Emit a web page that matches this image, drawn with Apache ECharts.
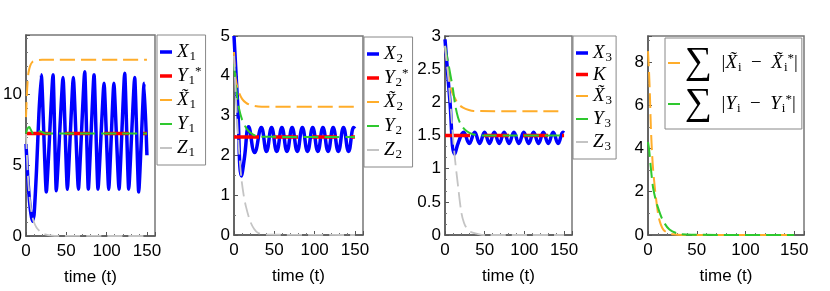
<!DOCTYPE html>
<html><head><meta charset="utf-8">
<script src="https://cdn.jsdelivr.net/npm/echarts@6/dist/echarts.min.js"></script>
<style>html,body{margin:0;padding:0;background:#fff}#c{width:830px;height:291px}</style>
</head><body><div id="c"></div>
<script>
// ---------- data: [time, value] ----------
const X_TICK_INTERVAL = 50;
// Panel 1
const X1 = [[0,6.5],[2,4.3],[4,2.7],[6,1.6],[8,1.05],[10,1.5],[13,4.6],[16,8.6],[19,11.4],[25.2,3.1],[33.5,11.4],[37.6,3.2],[45.9,11.2],[51.3,3.3],[58.7,11.2],[65,3.3],[72.8,11.6],[77.3,3.3],[84.4,11.4],[89.3,3.3],[96.8,10.8],[102.6,3.3],[109,10.8],[115.4,3.3],[122.4,11.5],[127.4,3.3],[134.8,11.2],[139.8,3.1],[146.5,10.8],[150,5.7]];
const Y1S = [[0,7.25],[150,7.25]];
const XT1 = [[0,8.4],[1,9.9],[2,10.9],[3,11.5],[5,12.0],[8,12.3],[12,12.4],[20,12.45],[150,12.45]];
const Y1 = [[0,7.25],[2,7.6],[4,7.7],[6,7.5],[9,7.25],[14,7.25],[17,7.4],[20,7.35],[24,7.25],[150,7.25]];
const Z1 = [[0,7.2],[2,4.6],[4,3.0],[6,2.0],[8,1.35],[10,0.95],[13,0.6],[16,0.4],[20,0.2],[25,0.1],[30,0.05],[40,0.01],[150,0]];
// Panel 2
const X2 = [[0,5.0],[4.5,3.3],[9.2,1.48],[13,1.95],[18.2,2.72],[25.6,2.07],[33.9,2.7],[40.3,2.1],[46.6,2.7],[53.0,2.1],[59.4,2.7],[65.7,2.1],[72.1,2.7],[78.5,2.1],[84.8,2.7],[91.2,2.1],[97.6,2.7],[104.0,2.1],[110.3,2.7],[116.7,2.1],[123.0,2.7],[129.4,2.1],[135.8,2.7],[142.1,2.1],[148.5,2.7],[150,2.67]];
const Y2S = [[0,2.46],[150,2.46]];
const XT2 = [[0,4.6],[2,3.95],[5,3.65],[10,3.42],[15,3.32],[20,3.27],[30,3.23],[40,3.22],[150,3.22]];
const Y2 = [[0,4.3],[3.7,3.5],[6,3.2],[10,2.9],[16,2.66],[21,2.56],[26,2.5],[35,2.47],[150,2.46]];
const Z2 = [[0,4.5],[3,3.2],[6,2.2],[9,1.45],[12,1.0],[15,0.7],[20,0.35],[25,0.15],[30,0.05],[40,0.01],[150,0]];
// Panel 3
const X3 = [[0,2.95],[6,2.05],[12.2,1.22],[17,1.4],[23.5,1.55],[30.5,1.38],[37.4,1.55],[43.6,1.38],[49.8,1.55],[56.0,1.38],[62.1,1.55],[68.3,1.38],[74.5,1.55],[80.7,1.38],[86.8,1.55],[93.0,1.38],[99.2,1.55],[105.4,1.38],[111.6,1.55],[117.8,1.38],[123.9,1.55],[130.1,1.38],[136.3,1.55],[142.5,1.38],[148.6,1.55],[150,1.54]];
const KS = [[0,1.5],[150,1.5]];
const XT3 = [[0,2.85],[3,2.55],[6,2.3],[9,2.15],[12.2,2.07],[17,1.97],[22.7,1.92],[30,1.885],[36,1.87],[150,1.865]];
const Y3 = [[0,2.85],[4,2.6],[7,2.4],[10,2.2],[13,1.95],[16.4,1.77],[19,1.69],[22.7,1.62],[28,1.56],[35,1.52],[45,1.5],[150,1.5]];
const Z3 = [[0,2.85],[4,2.4],[8,1.8],[12.2,1.19],[16.4,0.74],[20.6,0.34],[24,0.18],[27,0.11],[32,0.05],[40,0.02],[50,0],[150,0]];
// Panel 4
const SUMX = [[0,8.5],[1,7.6],[2,6.4],[3,4.9],[4.8,3.3],[7.2,2.1],[10.6,0.9],[13,0.5],[15.7,0.25],[20,0.1],[26,0.03],[35,0],[150,0]];
const SUMY = [[0,4.3],[1,4.0],[2.5,3.3],[5,2.25],[7.5,1.7],[10,1.3],[15,0.7],[22,0.25],[32,0.05],[45,0.01],[150,0]];

// ---------- styling ----------
const BLUE='#0000ff', RED='#ff0000', ORANGE='#ffad2a', GREEN='#2ec82e', GRAY='#c4c4c4';
const DASH=[15,6], RDASH=[25,14];
const FONT='Liberation Sans';
const GRIDS=[
  {left:26,top:35,width:129,height:201},
  {left:234,top:36,width:129,height:199},
  {left:445,top:36,width:127,height:199},
  {left:648,top:36,width:156,height:199}
];
const YAX=[{max:14.2,interval:5,minor:5,showMax:false},{max:5,interval:1,minor:2,showMax:true},{max:3,interval:0.5,minor:3,showMax:true},{max:9.2,interval:2,minor:2,showMax:false}];

const RICH={
  i:{fontFamily:'Liberation Serif',fontStyle:'italic',fontSize:19,lineHeight:22,color:'#000'},
  n:{fontFamily:'Liberation Serif',fontSize:19,lineHeight:22,color:'#000'},
  sub:{fontFamily:'Liberation Serif',fontSize:13,lineHeight:13,padding:[9,0,0,1],color:'#000'},
  sup:{fontFamily:'Liberation Serif',fontSize:13,lineHeight:13,padding:[0,0,9,0],color:'#000'},
  big:{fontFamily:'Liberation Serif',fontSize:38,lineHeight:34,color:'#000'}
};
const LBL={
  X1:'{i|X}{sub|1}', Y1S:'{i|Y}{sub|1}{sup|*}', XT1:'{i|X\u0303}{sub|1}', Y1:'{i|Y}{sub|1}', Z1:'{i|Z}{sub|1}',
  X2:'{i|X}{sub|2}', Y2S:'{i|Y}{sub|2}{sup|*}', XT2:'{i|X\u0303}{sub|2}', Y2:'{i|Y}{sub|2}', Z2:'{i|Z}{sub|2}',
  X3:'{i|X}{sub|3}', K:'{i|K}', XT3:'{i|X\u0303}{sub|3}', Y3:'{i|Y}{sub|3}', Z3:'{i|Z}{sub|3}',
  SUMX:'{big|\u2211}{n|  |}{i|X\u0303}{sub|i}{n|  \u2212  }{i|X\u0303}{sub|i}{sup|*}{n||}',
  SUMY:'{big|\u2211}{n|  |}{i|Y}{sub|i}{n|  \u2212  }{i|Y}{sub|i}{sup|*}{n||}'
};
// legend sample thickness per series
const LW={X1:3.5,Y1S:3.5,XT1:2,Y1:2,Z1:1.8,X2:3.5,Y2S:3.5,XT2:2,Y2:2,Z2:1.8,X3:3.5,K:3.5,XT3:2,Y3:2,Z3:1.8,SUMX:2,SUMY:2};
function barIcon(w){
  const a=5-w/2, b=5+w/2;
  return 'path://M0,0L12,0L12,0.01L0,0.01Z M0,'+a+'L12,'+a+'L12,'+b+'L0,'+b+'Z M0,9.99L12,9.99L12,10L0,10Z';
}

function ln(name,data,g,color,w,dash,smooth){
  return {type:'line',name,data,xAxisIndex:g,yAxisIndex:g,symbol:'none',showSymbol:false,smooth:smooth||false,
    lineStyle:{color,width:w,type:dash||'solid'},itemStyle:{color},clip:true};
}
const series=[
  ln('X1',X1,0,BLUE,3.5,null,0.15), ln('Y1S',Y1S,0,RED,3.5,RDASH), ln('XT1',XT1,0,ORANGE,2,DASH,0.3), ln('Y1',Y1,0,GREEN,2,DASH,0.3), ln('Z1',Z1,0,GRAY,1.8,DASH,0.3),
  ln('X2',X2,1,BLUE,3.5,null,0.45), ln('Y2S',Y2S,1,RED,3.5,RDASH), ln('XT2',XT2,1,ORANGE,2,DASH,0.3), ln('Y2',Y2,1,GREEN,2,DASH,0.3), ln('Z2',Z2,1,GRAY,1.8,DASH,0.3),
  ln('X3',X3,2,BLUE,3.5,null,0.45), ln('K',KS,2,RED,3.5,RDASH), ln('XT3',XT3,2,ORANGE,2,DASH,0.3), ln('Y3',Y3,2,GREEN,2,DASH,0.3), ln('Z3',Z3,2,GRAY,1.8,DASH,0.3),
  ln('SUMX',SUMX,3,ORANGE,2,DASH,0.3), ln('SUMY',SUMY,3,GREEN,2,DASH,0.3)
];

function legend(left,top,names,gap){
  return {orient:'vertical',left,top,
    data:names.map(n=>({name:n,icon:barIcon(LW[n])})),
    itemWidth:12,itemHeight:10,itemGap:gap,padding:[6,4,6,3],symbolKeepAspect:false,
    borderColor:'#888',borderWidth:1,backgroundColor:'#fff',selectedMode:false,
    itemStyle:{borderWidth:0},
    formatter:n=>LBL[n],textStyle:{rich:RICH}};
}

const option={
  animation:false,
  grid:GRIDS.map(g=>Object.assign({show:true,borderColor:'#777',borderWidth:1.5,backgroundColor:'transparent'},g)),
  xAxis:GRIDS.map((g,i)=>({type:'value',gridIndex:i,min:0,max:160,interval:X_TICK_INTERVAL,
    name:'time (t)',nameLocation:'middle',nameGap:33,nameTextStyle:{fontFamily:FONT,fontSize:17,color:'#000'},
    axisLine:{show:true,onZero:false,lineStyle:{color:'#555',width:1.5}},
    axisTick:{show:true,inside:true,length:4,lineStyle:{color:'#555'}},
    minorTick:{show:true,splitNumber:5,length:2,lineStyle:{color:'#777'}},
    splitLine:{show:false},
    axisLabel:{fontFamily:FONT,fontSize:17,color:'#000',margin:7,showMaxLabel:false}})),
  yAxis:YAX.map((y,i)=>({type:'value',gridIndex:i,min:0,max:y.max,interval:y.interval,
    axisLine:{show:true,onZero:false,lineStyle:{color:'#555',width:1.5}},
    axisTick:{show:true,inside:true,length:4,lineStyle:{color:'#555'}},
    minorTick:{show:true,splitNumber:y.minor,length:2,lineStyle:{color:'#777'}},
    splitLine:{show:false},
    axisLabel:{fontFamily:FONT,fontSize:17,color:'#000',margin:4,showMaxLabel:y.showMax}})),
  legend:[
    legend(157,35,['X1','Y1S','XT1','Y1','Z1'],2),
    legend(364,37,['X2','Y2S','XT2','Y2','Z2'],2),
    legend(573,36,['X3','K','XT3','Y3','Z3'],1),
    legend(665,38,['SUMX','SUMY'],3)
  ],
  series
};
const chart=echarts.init(document.getElementById('c'),null,{renderer:'canvas'});
chart.setOption(option);
</script></body></html>
